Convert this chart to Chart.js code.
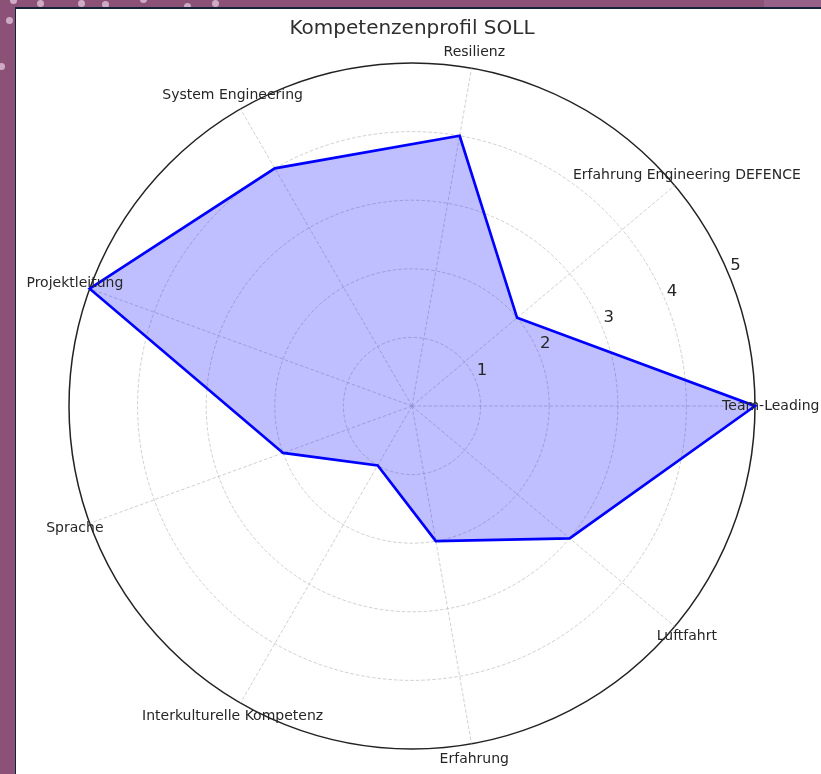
<!DOCTYPE html>
<html>
<head>
<meta charset="utf-8">
<script src="https://cdn.jsdelivr.net/npm/chart.js@4/dist/chart.umd.min.js"></script>
<style>
  html, body { margin: 0; padding: 0; width: 821px; height: 774px; overflow: hidden; background: #8b5177; }
  #strip { position: absolute; left: 764px; top: 0; width: 57px; height: 8px; background: #96628a; }
  .dot { position: absolute; width: 7px; height: 7px; border-radius: 50%; background: rgba(230,200,222,0.75); }
  #panel { position: absolute; left: 15px; top: 7px; width: 806px; height: 767px; background: #fff;
           border-left: 1px solid #14233a; border-top: 2px solid #14233a; box-sizing: border-box; }
  #c { position: absolute; left: 0; top: 0; }
</style>
</head>
<body>
<div id="strip"></div>
<div class="dot" style="left:10px;top:-3px"></div>
<div class="dot" style="left:37px;top:0px"></div>
<div class="dot" style="left:78px;top:0px"></div>
<div class="dot" style="left:102px;top:1px"></div>
<div class="dot" style="left:140px;top:-4px"></div>
<div class="dot" style="left:184px;top:3px"></div>
<div class="dot" style="left:212px;top:0px"></div>
<div class="dot" style="left:6px;top:17px"></div>
<div class="dot" style="left:-2px;top:63px"></div>
<div id="panel"></div>
<canvas id="c" width="821" height="774"></canvas>
<script>
// ---- data (counter-clockwise order, starting at 3 o'clock) ----
const categories = ['Team-Leading', 'Erfahrung Engineering DEFENCE', 'Resilienz', 'System Engineering',
                    'Projektleitung', 'Sprache', 'Interkulturelle Kompetenz', 'Erfahrung', 'Luftfahrt'];
const sollValues = [5, 2, 4, 4, 5, 2, 1, 2, 3];
const tickValues = [1, 2, 3, 4, 5];
const chartTitle = 'Kompetenzenprofil SOLL';

// Chart.js runs clockwise; reorder so that the order runs counter-clockwise
const order = [0].concat(categories.map((_, i) => i).slice(1).reverse());
const labels = order.map(i => categories[i]);
const data = order.map(i => sollValues[i]);

const FONT = "'DejaVu Sans', 'Liberation Sans', sans-serif";
const TEXT = '#262626';

const labelPlugin = {
  id: 'mplLabels',
  afterDraw(chart) {
    const s = chart.scales.r;
    const ctx = chart.ctx;
    ctx.save();
    ctx.fillStyle = TEXT;
    ctx.textAlign = 'center';
    ctx.textBaseline = 'middle';
    // category labels centred just outside the outer circle
    ctx.font = '14px ' + FONT;
    labels.forEach((lab, i) => {
      const p = s.getPointPosition(i, s.drawingArea * 1.046);
      ctx.fillText(lab, p.x, p.y);
    });
    // radial tick labels along 22.5°
    ctx.font = '16.5px ' + FONT;
    const a = 22.5 * Math.PI / 180;
    tickValues.forEach(v => {
      const r = s.getDistanceFromCenterForValue(v);
      const x = s.xCenter + r * Math.cos(a) + 6.5;
      const y = s.yCenter - r * Math.sin(a) - 9.5;
      ctx.fillText(String(v), x, y);
    });
    ctx.restore();
  }
};

new Chart(document.getElementById('c'), {
  type: 'radar',
  data: {
    labels: labels,
    datasets: [{
      label: 'SOLL',
      data: data,
      fill: true,
      backgroundColor: 'rgba(0,0,255,0.25)',
      borderColor: '#0000ff',
      borderWidth: 2.7,
      pointRadius: 0,
      pointHoverRadius: 0,
      tension: 0
    }]
  },
  options: {
    responsive: false,
    animation: false,
    events: [],
    layout: { padding: { left: 69, right: 66, top: 9, bottom: 25 } },
    plugins: {
      legend: { display: false },
      tooltip: { enabled: false },
      title: {
        display: true,
        text: chartTitle,
        color: '#2e2e2e',
        font: { family: FONT, size: 20, weight: 'normal' },
        padding: { top: 8, bottom: 22 }
      }
    },
    scales: {
      r: {
        min: 0,
        max: 5,
        startAngle: 90,
        ticks: { display: false, stepSize: 1 },
        pointLabels: { display: false },
        grid: {
          circular: true,
          color: (c) => c.index === 5 ? '#222222' : 'rgba(176,176,176,0.75)',
          lineWidth: (c) => c.index === 5 ? 1.5 : 0.8
        },
        border: {
          dash: (c) => c.index === 5 ? [] : [3.5, 2]
        },
        angleLines: {
          color: 'rgba(176,176,176,0.75)',
          lineWidth: 0.8,
          borderDash: [3.5, 2]
        }
      }
    }
  },
  plugins: [labelPlugin]
});
</script>
</body>
</html>
